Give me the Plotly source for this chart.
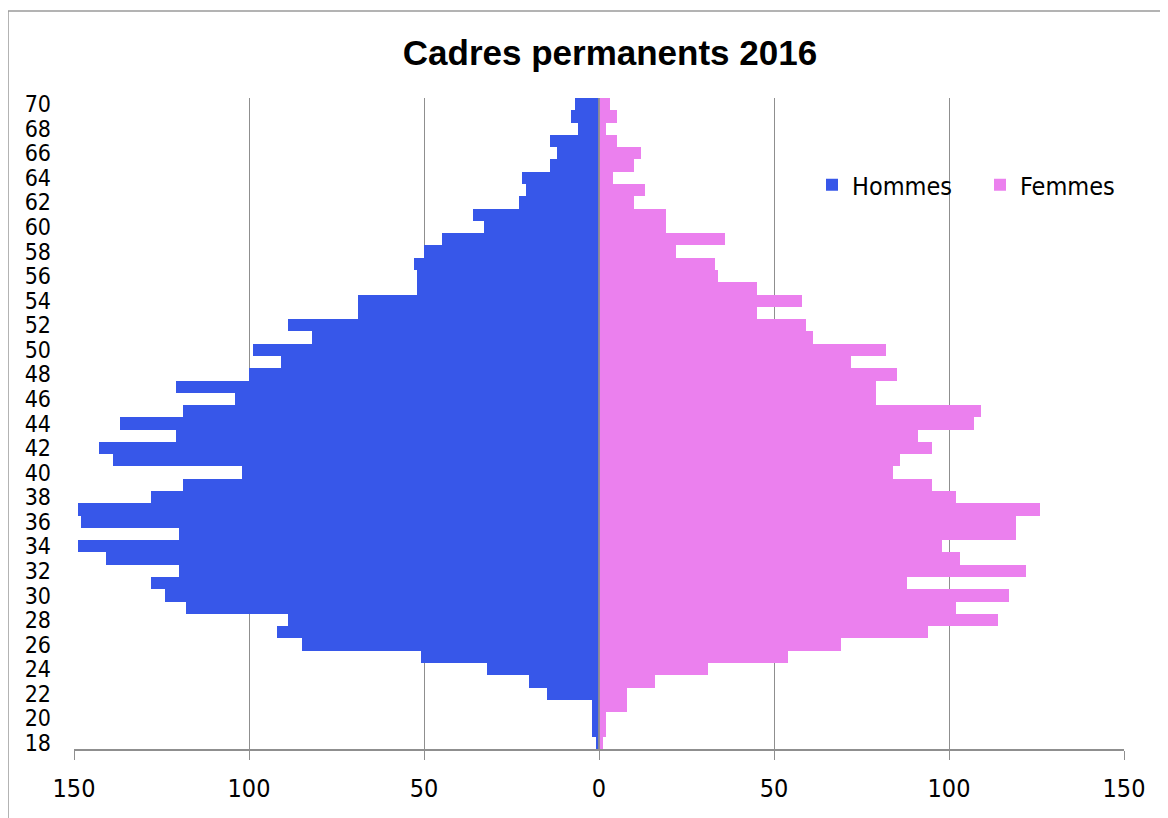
import plotly.graph_objects as go

ages = list(range(18, 71))
# values listed from age 18 up to age 70
hommes = [1, 2, 2, 2, 15, 20, 32, 51, 85, 92, 89, 118, 124, 128, 120, 141, 149, 120, 148, 149,
          128, 119, 102, 139, 143, 121, 137, 119, 104, 121, 100, 91, 99, 82, 89, 69, 69, 52, 52, 53,
          50, 45, 33, 36, 23, 21, 22, 14, 12, 14, 6, 8, 7]
femmes = [1, 2, 2, 8, 8, 16, 31, 54, 69, 94, 114, 102, 117, 88, 122, 103, 98, 119, 119, 126,
          102, 95, 84, 86, 95, 91, 107, 109, 79, 79, 85, 72, 82, 61, 59, 45, 58, 45, 34, 33,
          22, 36, 19, 19, 10, 13, 4, 10, 12, 5, 2, 5, 3]
xtick_vals = [-150, -100, -50, 0, 50, 100, 150]
xtick_text = ["150", "100", "50", "0", "50", "100", "150"]
title_text = "Cadres permanents 2016"

BLUE = "#3757E9"
PINK = "#EB80EE"
GRID = "#8f8f8f"
NARROW = "Liberation Sans Narrow, DejaVu Sans Condensed, Arial Narrow, Liberation Sans, sans-serif"

# page body has an 8px margin: figure drawn from (8, 8)
OFF = 8
W, H = 1160, 810
L, R, T, B = 66, 44, 90, 69
pw, ph = W - L - R, H - T - B


def px_x(sx):
    return (sx - OFF - L) / pw


def px_y(sy):
    return 1 - (sy - OFF - T) / ph


fig = go.Figure()
fig.add_trace(go.Bar(
    y=ages, x=[-v for v in hommes], orientation="h", name="Hommes",
    marker=dict(color=BLUE, line=dict(width=0)),
    customdata=hommes, hovertemplate="%{y}: %{customdata}<extra>Hommes</extra>",
))
fig.add_trace(go.Bar(
    y=ages, x=femmes, orientation="h", name="Femmes",
    marker=dict(color=PINK, line=dict(width=0)),
    hovertemplate="%{y}: %{x}<extra>Femmes</extra>",
))

fig.update_layout(
    width=W, height=H,
    margin=dict(l=L, r=R, t=T, b=B, pad=0),
    barmode="relative", bargap=0,
    plot_bgcolor="white", paper_bgcolor="white",
    title=dict(text="<b>" + title_text + "</b>", x=(610 - OFF) / W, xref="container",
               xanchor="center", y=1 - (53 - OFF) / H, yanchor="middle",
               font=dict(family="Liberation Sans, Arial, sans-serif", size=35, color="black")),
    legend=dict(orientation="h", x=px_x(812), y=px_y(185), xanchor="left", yanchor="middle",
                font=dict(family=NARROW, size=25, color="black"),
                bgcolor="rgba(0,0,0,0)", traceorder="normal",
                entrywidth=123, entrywidthmode="pixels", itemclick=False),
    xaxis=dict(range=[-150, 150], tickvals=xtick_vals, ticktext=xtick_text,
               showgrid=True, gridcolor=GRID, gridwidth=1.3, zeroline=False,
               showline=True, linecolor=GRID, linewidth=1.6,
               ticks="outside", ticklen=9, tickcolor=GRID, tickwidth=1.3,
               ticklabelstandoff=7,
               tickfont=dict(family=NARROW, size=25, color="black"), fixedrange=True),
    yaxis=dict(range=[17.5, 70.5], tick0=18, dtick=2, showgrid=False, zeroline=False,
               showline=False, ticks="", ticklabelstandoff=22,
               tickfont=dict(family=NARROW, size=23, color="black"), fixedrange=True),
    shapes=[
        dict(type="line", xref="x", yref="paper", x0=0, x1=0, y0=0, y1=1,
             line=dict(color=GRID, width=1.8), layer="above"),
        dict(type="rect", xref="paper", yref="paper",
             x0=px_x(8), x1=px_x(1190), y0=px_y(840), y1=px_y(11),
             line=dict(color="#9a9a9a", width=1.5), layer="below"),
    ],
)

fig.write_html("out.html")
